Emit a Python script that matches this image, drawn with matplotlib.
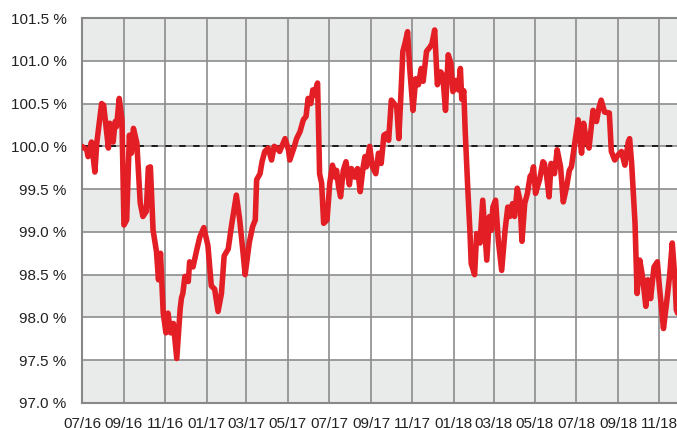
import matplotlib
matplotlib.use('Agg')
import matplotlib.pyplot as plt
import matplotlib.dates as mdates
from matplotlib.ticker import FuncFormatter
import pandas as pd

# index level in percent of the reference, one row per month
dates = [
    "2016-07-01", "2016-07-08", "2016-07-10", "2016-07-15", "2016-07-20", "2016-07-23", "2016-07-30",
    "2016-08-02", "2016-08-09", "2016-08-11", "2016-08-16", "2016-08-19", "2016-08-21", "2016-08-25", "2016-08-29",
    "2016-09-01", "2016-09-05", "2016-09-09", "2016-09-12", "2016-09-15", "2016-09-20", "2016-09-25", "2016-09-29",
    "2016-10-04", "2016-10-07", "2016-10-10", "2016-10-14", "2016-10-19", "2016-10-22", "2016-10-25", "2016-10-29",
    "2016-11-02", "2016-11-05", "2016-11-09", "2016-11-13", "2016-11-18", "2016-11-23", "2016-11-25", "2016-11-27", "2016-11-30",
    "2016-12-05", "2016-12-07", "2016-12-12", "2016-12-17", "2016-12-22", "2016-12-28",
    "2017-01-03", "2017-01-08", "2017-01-13", "2017-01-18", "2017-01-23", "2017-01-27",
    "2017-02-02", "2017-02-07", "2017-02-14", "2017-02-19", "2017-02-24", "2017-02-27",
    "2017-03-05", "2017-03-10", "2017-03-14", "2017-03-16", "2017-03-21", "2017-03-24", "2017-03-28",
    "2017-04-02", "2017-04-07", "2017-04-11", "2017-04-15", "2017-04-19", "2017-04-27",
    "2017-05-02", "2017-05-04", "2017-05-10", "2017-05-14", "2017-05-19", "2017-05-24", "2017-05-28", "2017-05-31",
    "2017-06-04", "2017-06-07", "2017-06-09", "2017-06-14", "2017-06-17", "2017-06-20", "2017-06-23", "2017-06-28",
    "2017-07-02", "2017-07-06", "2017-07-10", "2017-07-12", "2017-07-15", "2017-07-18", "2017-07-22", "2017-07-26", "2017-07-31",
    "2017-08-03", "2017-08-08", "2017-08-12", "2017-08-16", "2017-08-20", "2017-08-23", "2017-08-25", "2017-08-30",
    "2017-09-03", "2017-09-08", "2017-09-12", "2017-09-16", "2017-09-20", "2017-09-24", "2017-09-27",
    "2017-10-01", "2017-10-05", "2017-10-09", "2017-10-12", "2017-10-15", "2017-10-18", "2017-10-21", "2017-10-25", "2017-10-28",
    "2017-11-02", "2017-11-06", "2017-11-10", "2017-11-14", "2017-11-17", "2017-11-22", "2017-11-27", "2017-11-30",
    "2017-12-04", "2017-12-08", "2017-12-13", "2017-12-16", "2017-12-20", "2017-12-24", "2017-12-28", "2017-12-31",
    "2018-01-04", "2018-01-08", "2018-01-11", "2018-01-13", "2018-01-16", "2018-01-18", "2018-01-22", "2018-01-25", "2018-01-27",
    "2018-02-01", "2018-02-04", "2018-02-09", "2018-02-13", "2018-02-16", "2018-02-19", "2018-02-23", "2018-02-26", "2018-02-28",
    "2018-03-04", "2018-03-08", "2018-03-13", "2018-03-18", "2018-03-22", "2018-03-25", "2018-03-29",
    "2018-04-01", "2018-04-05", "2018-04-09", "2018-04-12", "2018-04-16", "2018-04-20", "2018-04-24", "2018-04-27", "2018-04-29",
    "2018-05-02", "2018-05-08", "2018-05-13", "2018-05-15", "2018-05-18", "2018-05-22", "2018-05-25", "2018-05-30",
    "2018-06-03", "2018-06-08", "2018-06-12", "2018-06-17", "2018-06-21", "2018-06-24", "2018-06-29",
    "2018-07-04", "2018-07-09", "2018-07-12", "2018-07-16", "2018-07-20", "2018-07-24", "2018-07-26", "2018-07-31",
    "2018-08-04", "2018-08-07", "2018-08-12", "2018-08-19", "2018-08-22", "2018-08-27",
    "2018-09-01", "2018-09-06", "2018-09-11", "2018-09-16", "2018-09-18", "2018-09-21", "2018-09-26", "2018-09-29",
    "2018-10-03", "2018-10-07", "2018-10-12", "2018-10-15", "2018-10-19", "2018-10-24", "2018-10-29",
    "2018-11-01", "2018-11-07", "2018-11-11", "2018-11-16", "2018-11-20", "2018-11-24", "2018-11-26", "2018-11-28",
]
level = [
    100.00, 99.96, 99.88, 100.05, 99.70, 100.05, 100.50,
    100.48, 99.98, 100.27, 100.05, 100.29, 100.23, 100.56, 100.31,
    99.08, 99.14, 100.13, 99.92, 100.21, 100.04, 99.34, 99.18,
    99.24, 99.75, 99.76, 99.02, 98.77, 98.44, 98.75, 98.05,
    97.82, 98.05, 97.82, 97.93, 97.52, 98.10, 98.23, 98.28, 98.48,
    98.42, 98.65, 98.59, 98.77, 98.94, 99.05,
    98.84, 98.37, 98.33, 98.07, 98.28, 98.72,
    98.80, 99.08, 99.43, 99.14, 98.75, 98.50,
    98.87, 99.06, 99.14, 99.61, 99.68, 99.82, 99.94,
    99.98, 99.84, 100.00, 99.98, 99.94, 100.09,
    99.96, 99.84, 99.98, 100.09, 100.17, 100.31, 100.35, 100.56,
    100.50, 100.66, 100.60, 100.74, 99.68, 99.57, 99.10, 99.14,
    99.57, 99.78, 99.64, 99.72, 99.53, 99.41, 99.72, 99.82, 99.55,
    99.74, 99.64, 99.74, 99.47, 99.74, 99.88, 99.76, 100.00,
    99.76, 99.68, 99.92, 99.80, 100.13, 100.15, 100.07,
    100.54, 100.50, 100.46, 100.09, 100.58, 101.11, 101.20, 101.34, 100.93,
    100.42, 100.79, 100.72, 100.91, 100.76, 101.11, 101.16, 101.20,
    101.36, 100.72, 100.87, 100.83, 100.42, 101.07, 100.97, 100.64,
    100.77, 100.66, 100.91, 100.55, 100.65, 100.20, 99.49, 99.02, 98.63,
    98.50, 98.98, 98.87, 99.37, 99.02, 98.67, 99.18, 99.02, 99.29,
    99.37, 98.90, 98.55, 99.02, 99.29, 99.18, 99.33,
    99.18, 99.51, 99.37, 98.89, 99.33, 99.45, 99.65, 99.68, 99.76,
    99.45, 99.61, 99.82, 99.80, 99.68, 99.41, 99.80, 99.68,
    99.96, 99.76, 99.35, 99.53, 99.72, 99.76, 100.04,
    100.31, 99.92, 100.27, 100.07, 99.98, 100.27, 100.42, 100.29,
    100.46, 100.54, 100.40, 100.39, 99.94, 99.84,
    99.90, 99.94, 99.78, 100.05, 100.09, 99.80, 99.10, 98.28,
    98.67, 98.48, 98.13, 98.44, 98.22, 98.59, 98.65,
    98.36, 97.87, 98.13, 98.48, 98.87, 98.44, 98.09, 98.05,
]
y_ticks = [97.0, 97.5, 98.0, 98.5, 99.0, 99.5, 100.0, 100.5, 101.0, 101.5]
band_starts = [97.0, 98.0, 99.0, 100.0, 101.0]

plt.rcParams['font.family'] = ['Liberation Sans', 'DejaVu Sans']

fig = plt.figure(figsize=(6.77, 4.28), dpi=100)
ax = fig.add_axes([82 / 677, 25 / 428, 595 / 677, 385 / 428])

x = pd.to_datetime(dates)

# alternating grey / white bands
for lo in band_starts:
    ax.axhspan(lo, lo + 0.5, color='#e9eaea', lw=0, zorder=0)

ax.plot(x, level, color='#e31e24', lw=4.0, solid_joinstyle='round',
        solid_capstyle='round', zorder=3)
ax.axhline(100.0, color='#111111', lw=1.3, linestyle=(0, (3.5, 4.2)), zorder=2)

ax.set_xlim(pd.Timestamp('2016-07-01'), pd.Timestamp('2018-11-27'))
ax.set_ylim(97.0, 101.5)
ax.set_yticks(y_ticks)
ax.yaxis.set_major_formatter(FuncFormatter(lambda v, p: f'{v:.1f} %'))
ax.xaxis.set_major_locator(mdates.MonthLocator(bymonth=[1, 3, 5, 7, 9, 11]))
ax.xaxis.set_major_formatter(mdates.DateFormatter('%m/%y'))

ax.grid(True, color='#8c8c8c', lw=1.2, zorder=1)
ax.set_axisbelow(True)
ax.tick_params(axis='both', length=0, labelsize=11, labelcolor='#222222')
ax.tick_params(axis='y', pad=11)
ax.tick_params(axis='x', pad=10)

for side in ['left', 'bottom', 'top']:
    ax.spines[side].set_color('#888888')
    ax.spines[side].set_linewidth(1.5)
ax.spines['right'].set_visible(False)

fig.savefig('out.png', dpi=100)
